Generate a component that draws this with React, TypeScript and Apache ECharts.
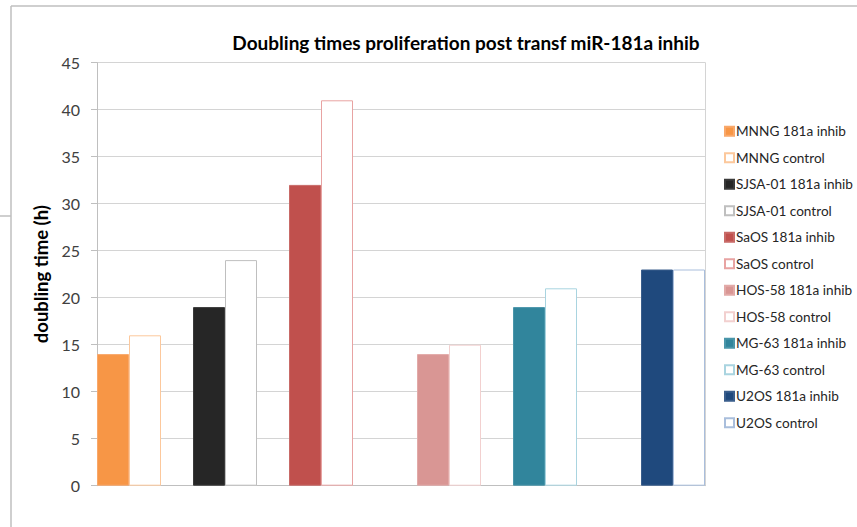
import React, { useEffect, useRef } from "react";
import * as echarts from "echarts";

const title = "Doubling times proliferation post transf miR-181a inhib";
const yAxisName = "doubling time (h)";
const slotCount = 19;
const seriesNames = [
  "MNNG 181a inhib",
  "MNNG control",
  "SJSA-01 181a inhib",
  "SJSA-01 control",
  "SaOS 181a inhib",
  "SaOS control",
  "HOS-58 181a inhib",
  "HOS-58 control",
  "MG-63 181a inhib",
  "MG-63 control",
  "U2OS 181a inhib",
  "U2OS control",
];
const seriesValues = [14, 16, 19, 24, 32, 41, 14, 15, 19, 21, 23, 23];
const seriesSlots = [0, 1, 3, 4, 6, 7, 10, 11, 13, 14, 17, 18];
const fillColors = [
  "#F79646", "#FFFFFF", "#262626", "#FFFFFF", "#C0504D", "#FFFFFF",
  "#D99694", "#FFFFFF", "#31859C", "#FFFFFF", "#1F497D", "#FFFFFF",
];
const borderColors = [
  "#F9A86A", "#FCC89C", "#3A3A3A", "#BFBFBF", "#C86A67", "#E8A3A2",
  "#E2AAA8", "#F2D0CF", "#4A96AA", "#A9D4E0", "#3A5E8C", "#A9BEDC",
];
const yTicks = { min: 0, max: 45, interval: 5 };

export default function App() {
  const ref = useRef<HTMLDivElement>(null);
  useEffect(() => {
    if (!ref.current) return;
    const chart = echarts.init(ref.current, null, { renderer: "svg" });
    const categories = Array.from({ length: slotCount }, () => "");
    const series = seriesNames.map((name, i) => {
      const data: (number | string)[] = Array.from({ length: slotCount }, () => "-");
      data[seriesSlots[i]] = seriesValues[i];
      return {
        name,
        type: "bar" as const,
        stack: "all",
        barWidth: "100%",
        data,
        itemStyle: {
          color: fillColors[i],
          borderColor: borderColors[i],
          borderWidth: 1,
        },
      };
    });
    const font = "Lato, 'Noto Sans', sans-serif";
    chart.setOption({
      animation: false,
      backgroundColor: "#FFFFFF",
      textStyle: { fontFamily: font },
      title: {
        text: title,
        left: 461,
        top: 28,
        textAlign: "center",
        textStyle: {
          fontFamily: font,
          fontSize: 19,
          fontWeight: "bold",
          color: "#000000",
        },
      },
      legend: {
        orient: "vertical",
        left: 719,
        top: 119,
        itemWidth: 9,
        itemHeight: 9,
        itemGap: 12,
        icon: "rect",
        textStyle: {
          fontFamily: font,
          fontSize: 13.6,
          color: "#262626",
          lineHeight: 14.5,
          padding: [0, 0, 0, -3],
        },
        data: seriesNames,
      },
      grid: { left: 97, top: 62.7, width: 608, height: 423 },
      xAxis: {
        type: "category",
        data: categories,
        axisLine: { show: true, lineStyle: { color: "#BFBFBF", width: 1 } },
        axisTick: { show: false },
        axisLabel: { show: false },
        splitLine: { show: false },
      },
      yAxis: [
        {
          type: "value",
          min: yTicks.min,
          max: yTicks.max,
          interval: yTicks.interval,
          name: yAxisName,
          nameLocation: "middle",
          nameGap: 43,
          nameTextStyle: {
            fontFamily: font,
            fontSize: 18.5,
            fontWeight: "bold",
            color: "#000000",
          },
          axisLine: { show: true, lineStyle: { color: "#BFBFBF", width: 1 } },
          axisTick: { show: true, length: 6, lineStyle: { color: "#BFBFBF" } },
          axisLabel: {
            fontFamily: font,
            fontSize: 16,
            color: "#404040",
            margin: 17,
          },
          splitLine: { show: true, lineStyle: { color: "#D4D4D4", width: 1 } },
        },
        {
          type: "value",
          position: "right",
          min: yTicks.min,
          max: yTicks.max,
          interval: yTicks.interval,
          axisLine: { show: true, lineStyle: { color: "#D4D4D4", width: 1 } },
          axisTick: { show: false },
          axisLabel: { show: false },
          splitLine: { show: false },
        },
      ],
      graphic: [
        { type: "line", shape: { x1: 11, y1: 6, x2: 11, y2: 527 }, style: { stroke: "#BFBFBF", lineWidth: 1.5 } },
        { type: "line", shape: { x1: 11, y1: 6, x2: 857, y2: 6 }, style: { stroke: "#BFBFBF", lineWidth: 1.5 } },
        { type: "line", shape: { x1: 0, y1: 216, x2: 11, y2: 216 }, style: { stroke: "#BFBFBF", lineWidth: 1.5 } },
      ],
      series,
    });
    return () => chart.dispose();
  }, []);
  return (
    <div
      ref={ref}
      style={{ position: "fixed", left: 0, top: 0, width: 857, height: 527 }}
    />
  );
}
